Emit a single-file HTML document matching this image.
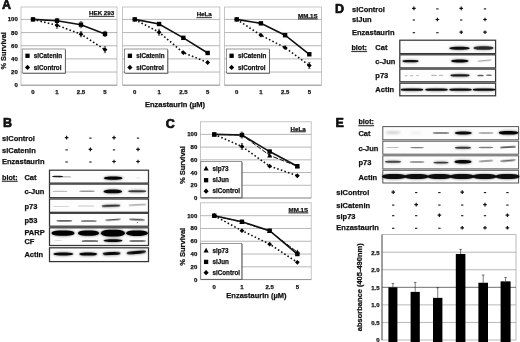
<!DOCTYPE html>
<html lang="en"><head><meta charset="utf-8"><title>Figure</title>
<style>html,body{margin:0;padding:0;background:#fff}body{width:520px;height:342px;overflow:hidden}svg{display:block;font-family:"Liberation Sans", Arial, sans-serif;filter:blur(0.3px)}</style>
</head><body>
<svg width="520" height="342" viewBox="0 0 520 342">
<defs>
<filter id="b1" x="-20%" y="-100%" width="140%" height="300%"><feGaussianBlur stdDeviation="0.7"/></filter>
<filter id="b2" x="-20%" y="-100%" width="140%" height="300%"><feGaussianBlur stdDeviation="0.9"/></filter>
</defs>
<rect width="520" height="342" fill="#fff"/>
<text x="2.00" y="9.20" font-size="12.5" text-anchor="start" font-weight="bold" fill="#111" stroke="#111" stroke-width="0.7" stroke-linejoin="round" >A</text>
<rect x="21" y="7" width="96" height="78.2" fill="#fff" stroke="#b8b8b8" stroke-width="0.8"/>
<line x1="21" x2="117" y1="72.04" y2="72.04" stroke="#9a9a9a" stroke-width="0.7"/>
<line x1="21" x2="117" y1="58.88" y2="58.88" stroke="#9a9a9a" stroke-width="0.7"/>
<line x1="21" x2="117" y1="45.72" y2="45.72" stroke="#9a9a9a" stroke-width="0.7"/>
<line x1="21" x2="117" y1="32.56" y2="32.56" stroke="#9a9a9a" stroke-width="0.7"/>
<line x1="21" x2="117" y1="19.40" y2="19.40" stroke="#9a9a9a" stroke-width="0.7"/>
<line x1="21" x2="117" y1="85.20" y2="85.20" stroke="#8a8a8a" stroke-width="0.8"/>
<text x="114.20" y="15.00" font-size="6.2" text-anchor="end" font-weight="bold" fill="#111" stroke="#111" stroke-width="0.25" stroke-linejoin="round" text-decoration="underline">HEK 293</text>
<polyline points="33.00,19.40 57.00,25.32 81.00,34.20 105.00,49.67" fill="none" stroke="#111" stroke-width="1.6" stroke-dasharray="1.6 2.2"/>
<polyline points="33.00,19.40 57.00,20.72 81.00,24.66 105.00,33.88" fill="none" stroke="#111" stroke-width="1.6"/>
<path d="M33.00,17.00 L35.40,19.40 L33.00,21.80 L30.60,19.40Z" fill="#000"/>
<path d="M57.00,22.32V28.32M55.80,22.32h2.4M55.80,28.32h2.4" stroke="#222" stroke-width="0.6" fill="none"/>
<path d="M57.00,22.92 L59.40,25.32 L57.00,27.72 L54.60,25.32Z" fill="#000"/>
<path d="M81.00,31.60V36.80M79.80,31.60h2.4M79.80,36.80h2.4" stroke="#222" stroke-width="0.6" fill="none"/>
<path d="M81.00,31.80 L83.40,34.20 L81.00,36.60 L78.60,34.20Z" fill="#000"/>
<path d="M105.00,46.67V52.67M103.80,46.67h2.4M103.80,52.67h2.4" stroke="#222" stroke-width="0.6" fill="none"/>
<path d="M105.00,47.27 L107.40,49.67 L105.00,52.07 L102.60,49.67Z" fill="#000"/>
<rect x="30.80" y="17.20" width="4.40" height="4.40" fill="#000"/>
<path d="M57.00,18.32V23.12M55.80,18.32h2.4M55.80,23.12h2.4" stroke="#222" stroke-width="0.6" fill="none"/>
<rect x="54.80" y="18.52" width="4.40" height="4.40" fill="#000"/>
<path d="M81.00,21.66V27.66M79.80,21.66h2.4M79.80,27.66h2.4" stroke="#222" stroke-width="0.6" fill="none"/>
<rect x="78.80" y="22.46" width="4.40" height="4.40" fill="#000"/>
<path d="M105.00,31.28V36.48M103.80,31.28h2.4M103.80,36.48h2.4" stroke="#222" stroke-width="0.6" fill="none"/>
<rect x="102.80" y="31.68" width="4.40" height="4.40" fill="#000"/>
<rect x="22.9" y="49.7" width="43.0" height="24" fill="#555"/>
<rect x="22.2" y="49" width="43.0" height="24" fill="#fff" stroke="#555" stroke-width="0.6"/>
<rect x="25.35" y="53.65" width="4.30" height="4.30" fill="#000"/>
<text x="33.80" y="58.00" font-size="6.3" text-anchor="start" font-weight="bold" fill="#111" stroke="#111" stroke-width="0.25" stroke-linejoin="round" >siCatenin</text>
<path d="M27.50,64.80 L30.10,67.40 L27.50,70.00 L24.90,67.40Z" fill="#000"/>
<text x="33.80" y="69.60" font-size="6.3" text-anchor="start" font-weight="bold" fill="#111" stroke="#111" stroke-width="0.25" stroke-linejoin="round" >siControl</text>
<text x="33.00" y="94.20" font-size="6.0" text-anchor="middle" font-weight="bold" fill="#111" stroke="#111" stroke-width="0.25" stroke-linejoin="round" >0</text>
<text x="57.00" y="94.20" font-size="6.0" text-anchor="middle" font-weight="bold" fill="#111" stroke="#111" stroke-width="0.25" stroke-linejoin="round" >1</text>
<text x="81.00" y="94.20" font-size="6.0" text-anchor="middle" font-weight="bold" fill="#111" stroke="#111" stroke-width="0.25" stroke-linejoin="round" >2.5</text>
<text x="105.00" y="94.20" font-size="6.0" text-anchor="middle" font-weight="bold" fill="#111" stroke="#111" stroke-width="0.25" stroke-linejoin="round" >5</text>
<rect x="122.6" y="7" width="97.20000000000002" height="78.2" fill="#fff" stroke="#b8b8b8" stroke-width="0.8"/>
<line x1="122.6" x2="219.8" y1="72.04" y2="72.04" stroke="#9a9a9a" stroke-width="0.7"/>
<line x1="122.6" x2="219.8" y1="58.88" y2="58.88" stroke="#9a9a9a" stroke-width="0.7"/>
<line x1="122.6" x2="219.8" y1="45.72" y2="45.72" stroke="#9a9a9a" stroke-width="0.7"/>
<line x1="122.6" x2="219.8" y1="32.56" y2="32.56" stroke="#9a9a9a" stroke-width="0.7"/>
<line x1="122.6" x2="219.8" y1="19.40" y2="19.40" stroke="#9a9a9a" stroke-width="0.7"/>
<line x1="122.6" x2="219.8" y1="85.20" y2="85.20" stroke="#8a8a8a" stroke-width="0.8"/>
<text x="211.80" y="16.30" font-size="6.2" text-anchor="end" font-weight="bold" fill="#111" stroke="#111" stroke-width="0.25" stroke-linejoin="round" text-decoration="underline">HeLa</text>
<polyline points="134.75,19.40 159.05,32.23 183.35,52.63 207.65,62.50" fill="none" stroke="#111" stroke-width="1.6" stroke-dasharray="1.6 2.2"/>
<polyline points="134.75,19.40 159.05,24.01 183.35,37.82 207.65,52.96" fill="none" stroke="#111" stroke-width="1.6"/>
<path d="M134.75,17.00 L137.15,19.40 L134.75,21.80 L132.35,19.40Z" fill="#000"/>
<path d="M159.05,29.23V35.23M157.85,29.23h2.4M157.85,35.23h2.4" stroke="#222" stroke-width="0.6" fill="none"/>
<path d="M159.05,29.83 L161.45,32.23 L159.05,34.63 L156.65,32.23Z" fill="#000"/>
<path d="M183.35,50.23 L185.75,52.63 L183.35,55.03 L180.95,52.63Z" fill="#000"/>
<path d="M207.65,60.10 L210.05,62.50 L207.65,64.90 L205.25,62.50Z" fill="#000"/>
<rect x="132.55" y="17.20" width="4.40" height="4.40" fill="#000"/>
<rect x="156.85" y="21.81" width="4.40" height="4.40" fill="#000"/>
<rect x="181.15" y="35.62" width="4.40" height="4.40" fill="#000"/>
<rect x="205.45" y="50.76" width="4.40" height="4.40" fill="#000"/>
<rect x="125.3" y="49.7" width="43.0" height="24" fill="#555"/>
<rect x="124.6" y="49" width="43.0" height="24" fill="#fff" stroke="#555" stroke-width="0.6"/>
<rect x="127.75" y="53.65" width="4.30" height="4.30" fill="#000"/>
<text x="136.20" y="58.00" font-size="6.3" text-anchor="start" font-weight="bold" fill="#111" stroke="#111" stroke-width="0.25" stroke-linejoin="round" >siCatenin</text>
<path d="M129.90,64.80 L132.50,67.40 L129.90,70.00 L127.30,67.40Z" fill="#000"/>
<text x="136.20" y="69.60" font-size="6.3" text-anchor="start" font-weight="bold" fill="#111" stroke="#111" stroke-width="0.25" stroke-linejoin="round" >siControl</text>
<text x="134.75" y="94.20" font-size="6.0" text-anchor="middle" font-weight="bold" fill="#111" stroke="#111" stroke-width="0.25" stroke-linejoin="round" >0</text>
<text x="159.05" y="94.20" font-size="6.0" text-anchor="middle" font-weight="bold" fill="#111" stroke="#111" stroke-width="0.25" stroke-linejoin="round" >1</text>
<text x="183.35" y="94.20" font-size="6.0" text-anchor="middle" font-weight="bold" fill="#111" stroke="#111" stroke-width="0.25" stroke-linejoin="round" >2.5</text>
<text x="207.65" y="94.20" font-size="6.0" text-anchor="middle" font-weight="bold" fill="#111" stroke="#111" stroke-width="0.25" stroke-linejoin="round" >5</text>
<rect x="224.6" y="7" width="96.79999999999998" height="78.2" fill="#fff" stroke="#b8b8b8" stroke-width="0.8"/>
<line x1="224.6" x2="321.4" y1="72.04" y2="72.04" stroke="#9a9a9a" stroke-width="0.7"/>
<line x1="224.6" x2="321.4" y1="58.88" y2="58.88" stroke="#9a9a9a" stroke-width="0.7"/>
<line x1="224.6" x2="321.4" y1="45.72" y2="45.72" stroke="#9a9a9a" stroke-width="0.7"/>
<line x1="224.6" x2="321.4" y1="32.56" y2="32.56" stroke="#9a9a9a" stroke-width="0.7"/>
<line x1="224.6" x2="321.4" y1="19.40" y2="19.40" stroke="#9a9a9a" stroke-width="0.7"/>
<line x1="224.6" x2="321.4" y1="85.20" y2="85.20" stroke="#8a8a8a" stroke-width="0.8"/>
<text x="317.60" y="17.60" font-size="6.2" text-anchor="end" font-weight="bold" fill="#111" stroke="#111" stroke-width="0.25" stroke-linejoin="round" text-decoration="underline">MM.1S</text>
<polyline points="236.70,19.40 260.90,35.19 285.10,47.69 309.30,65.46" fill="none" stroke="#111" stroke-width="1.6" stroke-dasharray="1.6 2.2"/>
<polyline points="236.70,19.40 260.90,23.35 285.10,35.19 309.30,54.27" fill="none" stroke="#111" stroke-width="1.6"/>
<path d="M236.70,17.00 L239.10,19.40 L236.70,21.80 L234.30,19.40Z" fill="#000"/>
<path d="M260.90,32.79 L263.30,35.19 L260.90,37.59 L258.50,35.19Z" fill="#000"/>
<path d="M285.10,45.29 L287.50,47.69 L285.10,50.09 L282.70,47.69Z" fill="#000"/>
<path d="M309.30,62.46V68.46M308.10,62.46h2.4M308.10,68.46h2.4" stroke="#222" stroke-width="0.6" fill="none"/>
<path d="M309.30,63.06 L311.70,65.46 L309.30,67.86 L306.90,65.46Z" fill="#000"/>
<rect x="234.50" y="17.20" width="4.40" height="4.40" fill="#000"/>
<rect x="258.70" y="21.15" width="4.40" height="4.40" fill="#000"/>
<rect x="282.90" y="32.99" width="4.40" height="4.40" fill="#000"/>
<rect x="307.10" y="52.07" width="4.40" height="4.40" fill="#000"/>
<rect x="227.0" y="49.7" width="43.0" height="24" fill="#555"/>
<rect x="226.3" y="49" width="43.0" height="24" fill="#fff" stroke="#555" stroke-width="0.6"/>
<rect x="229.45" y="53.65" width="4.30" height="4.30" fill="#000"/>
<text x="237.90" y="58.00" font-size="6.3" text-anchor="start" font-weight="bold" fill="#111" stroke="#111" stroke-width="0.25" stroke-linejoin="round" >siCatenin</text>
<path d="M231.60,64.80 L234.20,67.40 L231.60,70.00 L229.00,67.40Z" fill="#000"/>
<text x="237.90" y="69.60" font-size="6.3" text-anchor="start" font-weight="bold" fill="#111" stroke="#111" stroke-width="0.25" stroke-linejoin="round" >siControl</text>
<text x="236.70" y="94.20" font-size="6.0" text-anchor="middle" font-weight="bold" fill="#111" stroke="#111" stroke-width="0.25" stroke-linejoin="round" >0</text>
<text x="260.90" y="94.20" font-size="6.0" text-anchor="middle" font-weight="bold" fill="#111" stroke="#111" stroke-width="0.25" stroke-linejoin="round" >1</text>
<text x="285.10" y="94.20" font-size="6.0" text-anchor="middle" font-weight="bold" fill="#111" stroke="#111" stroke-width="0.25" stroke-linejoin="round" >2.5</text>
<text x="309.30" y="94.20" font-size="6.0" text-anchor="middle" font-weight="bold" fill="#111" stroke="#111" stroke-width="0.25" stroke-linejoin="round" >5</text>
<text x="17.80" y="87.20" font-size="6.0" text-anchor="end" font-weight="bold" fill="#111" stroke="#111" stroke-width="0.25" stroke-linejoin="round" >0</text>
<text x="17.80" y="74.04" font-size="6.0" text-anchor="end" font-weight="bold" fill="#111" stroke="#111" stroke-width="0.25" stroke-linejoin="round" >20</text>
<text x="17.80" y="60.88" font-size="6.0" text-anchor="end" font-weight="bold" fill="#111" stroke="#111" stroke-width="0.25" stroke-linejoin="round" >40</text>
<text x="17.80" y="47.72" font-size="6.0" text-anchor="end" font-weight="bold" fill="#111" stroke="#111" stroke-width="0.25" stroke-linejoin="round" >60</text>
<text x="17.80" y="34.56" font-size="6.0" text-anchor="end" font-weight="bold" fill="#111" stroke="#111" stroke-width="0.25" stroke-linejoin="round" >80</text>
<text x="17.80" y="21.40" font-size="6.0" text-anchor="end" font-weight="bold" fill="#111" stroke="#111" stroke-width="0.25" stroke-linejoin="round" >100</text>
<text transform="translate(6.20,50.90) rotate(-90)" font-size="7.4" text-anchor="middle" font-weight="bold" fill="#111" stroke="#111" stroke-width="0.25">% Survival</text>
<text x="175.00" y="107.40" font-size="7.5" text-anchor="middle" font-weight="bold" fill="#111" stroke="#111" stroke-width="0.25" stroke-linejoin="round" >Enzastaurin (µM)</text>
<text x="165.80" y="127.80" font-size="12.5" text-anchor="start" font-weight="bold" fill="#111" stroke="#111" stroke-width="0.7" stroke-linejoin="round" >C</text>
<rect x="200.4" y="121.8" width="110.79999999999998" height="76.2" fill="#fff" stroke="#b8b8b8" stroke-width="0.8"/>
<line x1="200.4" x2="311.2" y1="185.28" y2="185.28" stroke="#9a9a9a" stroke-width="0.7"/>
<line x1="200.4" x2="311.2" y1="172.56" y2="172.56" stroke="#9a9a9a" stroke-width="0.7"/>
<line x1="200.4" x2="311.2" y1="159.84" y2="159.84" stroke="#9a9a9a" stroke-width="0.7"/>
<line x1="200.4" x2="311.2" y1="147.12" y2="147.12" stroke="#9a9a9a" stroke-width="0.7"/>
<line x1="200.4" x2="311.2" y1="134.40" y2="134.40" stroke="#9a9a9a" stroke-width="0.7"/>
<line x1="200.4" x2="311.2" y1="198.00" y2="198.00" stroke="#8a8a8a" stroke-width="0.8"/>
<text x="305.70" y="130.50" font-size="6.2" text-anchor="end" font-weight="bold" fill="#111" stroke="#111" stroke-width="0.25" stroke-linejoin="round" text-decoration="underline">HeLa</text>
<polyline points="214.25,134.40 241.95,146.48 269.65,166.20 297.35,175.74" fill="none" stroke="#111" stroke-width="1.6" stroke-dasharray="1.6 2.2"/>
<polyline points="214.25,134.40 241.95,135.04 269.65,155.39 297.35,166.20" fill="none" stroke="#111" stroke-width="1.0" stroke-dasharray="5 1.6"/>
<polyline points="214.25,134.40 241.95,135.04 269.65,151.57 297.35,166.20" fill="none" stroke="#111" stroke-width="1.6"/>
<path d="M214.25,132.00 L216.65,134.40 L214.25,136.80 L211.85,134.40Z" fill="#000"/>
<path d="M241.95,143.48V149.48M240.75,143.48h2.4M240.75,149.48h2.4" stroke="#222" stroke-width="0.6" fill="none"/>
<path d="M241.95,144.08 L244.35,146.48 L241.95,148.88 L239.55,146.48Z" fill="#000"/>
<path d="M269.65,163.80 L272.05,166.20 L269.65,168.60 L267.25,166.20Z" fill="#000"/>
<path d="M297.35,173.34 L299.75,175.74 L297.35,178.14 L294.95,175.74Z" fill="#000"/>
<path d="M214.25,131.90 L216.75,136.40 L211.75,136.40Z" fill="#000"/>
<path d="M241.95,132.54 L244.45,137.04 L239.45,137.04Z" fill="#000"/>
<path d="M269.65,152.89 L272.15,157.39 L267.15,157.39Z" fill="#000"/>
<path d="M297.35,163.70 L299.85,168.20 L294.85,168.20Z" fill="#000"/>
<rect x="212.05" y="132.20" width="4.40" height="4.40" fill="#000"/>
<path d="M241.95,132.04V138.04M240.75,132.04h2.4M240.75,138.04h2.4" stroke="#222" stroke-width="0.6" fill="none"/>
<rect x="239.75" y="132.84" width="4.40" height="4.40" fill="#000"/>
<rect x="267.45" y="149.37" width="4.40" height="4.40" fill="#000"/>
<rect x="295.15" y="164.00" width="4.40" height="4.40" fill="#000"/>
<rect x="201.5" y="162.2" width="41.0" height="36.099999999999994" fill="#555"/>
<rect x="200.8" y="161.5" width="41.0" height="36.099999999999994" fill="#fff" stroke="#555" stroke-width="0.6"/>
<path d="M206.10,165.70 L208.70,170.38 L203.50,170.38Z" fill="#000"/>
<text x="212.40" y="170.50" font-size="6.3" text-anchor="start" font-weight="bold" fill="#111" stroke="#111" stroke-width="0.25" stroke-linejoin="round" >sip73</text>
<rect x="203.95" y="178.05" width="4.30" height="4.30" fill="#000"/>
<text x="212.40" y="182.40" font-size="6.3" text-anchor="start" font-weight="bold" fill="#111" stroke="#111" stroke-width="0.25" stroke-linejoin="round" >siJun</text>
<path d="M206.10,188.60 L208.70,191.20 L206.10,193.80 L203.50,191.20Z" fill="#000"/>
<text x="212.40" y="193.40" font-size="6.3" text-anchor="start" font-weight="bold" fill="#111" stroke="#111" stroke-width="0.25" stroke-linejoin="round" >siControl</text>
<rect x="200.4" y="202.8" width="110.79999999999998" height="76.80000000000001" fill="#fff" stroke="#b8b8b8" stroke-width="0.8"/>
<line x1="200.4" x2="311.2" y1="266.82" y2="266.82" stroke="#9a9a9a" stroke-width="0.7"/>
<line x1="200.4" x2="311.2" y1="254.04" y2="254.04" stroke="#9a9a9a" stroke-width="0.7"/>
<line x1="200.4" x2="311.2" y1="241.26" y2="241.26" stroke="#9a9a9a" stroke-width="0.7"/>
<line x1="200.4" x2="311.2" y1="228.48" y2="228.48" stroke="#9a9a9a" stroke-width="0.7"/>
<line x1="200.4" x2="311.2" y1="215.70" y2="215.70" stroke="#9a9a9a" stroke-width="0.7"/>
<line x1="200.4" x2="311.2" y1="279.60" y2="279.60" stroke="#8a8a8a" stroke-width="0.8"/>
<text x="308.20" y="211.60" font-size="6.2" text-anchor="end" font-weight="bold" fill="#111" stroke="#111" stroke-width="0.25" stroke-linejoin="round" text-decoration="underline">MM.1S</text>
<polyline points="214.25,215.70 241.95,230.72 269.65,244.14 297.35,262.35" fill="none" stroke="#111" stroke-width="1.6" stroke-dasharray="1.6 2.2"/>
<polyline points="214.25,215.70 241.95,222.09 269.65,231.04 297.35,252.12" fill="none" stroke="#111" stroke-width="1.0" stroke-dasharray="5 1.6"/>
<polyline points="214.25,215.70 241.95,221.77 269.65,230.72 297.35,254.04" fill="none" stroke="#111" stroke-width="1.6"/>
<path d="M214.25,213.30 L216.65,215.70 L214.25,218.10 L211.85,215.70Z" fill="#000"/>
<path d="M241.95,228.32 L244.35,230.72 L241.95,233.12 L239.55,230.72Z" fill="#000"/>
<path d="M269.65,241.74 L272.05,244.14 L269.65,246.54 L267.25,244.14Z" fill="#000"/>
<path d="M297.35,259.95 L299.75,262.35 L297.35,264.75 L294.95,262.35Z" fill="#000"/>
<path d="M214.25,213.20 L216.75,217.70 L211.75,217.70Z" fill="#000"/>
<path d="M241.95,219.59 L244.45,224.09 L239.45,224.09Z" fill="#000"/>
<path d="M269.65,228.54 L272.15,233.04 L267.15,233.04Z" fill="#000"/>
<path d="M297.35,249.62 L299.85,254.12 L294.85,254.12Z" fill="#000"/>
<rect x="212.05" y="213.50" width="4.40" height="4.40" fill="#000"/>
<rect x="239.75" y="219.57" width="4.40" height="4.40" fill="#000"/>
<rect x="267.45" y="228.52" width="4.40" height="4.40" fill="#000"/>
<rect x="295.15" y="251.84" width="4.40" height="4.40" fill="#000"/>
<rect x="201.5" y="244.0" width="41.0" height="35.89999999999998" fill="#555"/>
<rect x="200.8" y="243.3" width="41.0" height="35.89999999999998" fill="#fff" stroke="#555" stroke-width="0.6"/>
<path d="M206.10,247.80 L208.70,252.48 L203.50,252.48Z" fill="#000"/>
<text x="212.40" y="252.60" font-size="6.3" text-anchor="start" font-weight="bold" fill="#111" stroke="#111" stroke-width="0.25" stroke-linejoin="round" >sip73</text>
<rect x="203.95" y="259.75" width="4.30" height="4.30" fill="#000"/>
<text x="212.40" y="264.10" font-size="6.3" text-anchor="start" font-weight="bold" fill="#111" stroke="#111" stroke-width="0.25" stroke-linejoin="round" >siJun</text>
<path d="M206.10,270.10 L208.70,272.70 L206.10,275.30 L203.50,272.70Z" fill="#000"/>
<text x="212.40" y="274.90" font-size="6.3" text-anchor="start" font-weight="bold" fill="#111" stroke="#111" stroke-width="0.25" stroke-linejoin="round" >siControl</text>
<text x="214.25" y="289.20" font-size="6.0" text-anchor="middle" font-weight="bold" fill="#111" stroke="#111" stroke-width="0.25" stroke-linejoin="round" >0</text>
<text x="241.95" y="289.20" font-size="6.0" text-anchor="middle" font-weight="bold" fill="#111" stroke="#111" stroke-width="0.25" stroke-linejoin="round" >1</text>
<text x="269.65" y="289.20" font-size="6.0" text-anchor="middle" font-weight="bold" fill="#111" stroke="#111" stroke-width="0.25" stroke-linejoin="round" >2.5</text>
<text x="297.35" y="289.20" font-size="6.0" text-anchor="middle" font-weight="bold" fill="#111" stroke="#111" stroke-width="0.25" stroke-linejoin="round" >5</text>
<text x="197.30" y="200.00" font-size="6.0" text-anchor="end" font-weight="bold" fill="#111" stroke="#111" stroke-width="0.25" stroke-linejoin="round" >0</text>
<text x="197.30" y="187.28" font-size="6.0" text-anchor="end" font-weight="bold" fill="#111" stroke="#111" stroke-width="0.25" stroke-linejoin="round" >20</text>
<text x="197.30" y="174.56" font-size="6.0" text-anchor="end" font-weight="bold" fill="#111" stroke="#111" stroke-width="0.25" stroke-linejoin="round" >40</text>
<text x="197.30" y="161.84" font-size="6.0" text-anchor="end" font-weight="bold" fill="#111" stroke="#111" stroke-width="0.25" stroke-linejoin="round" >60</text>
<text x="197.30" y="149.12" font-size="6.0" text-anchor="end" font-weight="bold" fill="#111" stroke="#111" stroke-width="0.25" stroke-linejoin="round" >80</text>
<text x="197.30" y="136.40" font-size="6.0" text-anchor="end" font-weight="bold" fill="#111" stroke="#111" stroke-width="0.25" stroke-linejoin="round" >100</text>
<text x="197.30" y="281.60" font-size="6.0" text-anchor="end" font-weight="bold" fill="#111" stroke="#111" stroke-width="0.25" stroke-linejoin="round" >0</text>
<text x="197.30" y="268.82" font-size="6.0" text-anchor="end" font-weight="bold" fill="#111" stroke="#111" stroke-width="0.25" stroke-linejoin="round" >20</text>
<text x="197.30" y="256.04" font-size="6.0" text-anchor="end" font-weight="bold" fill="#111" stroke="#111" stroke-width="0.25" stroke-linejoin="round" >40</text>
<text x="197.30" y="243.26" font-size="6.0" text-anchor="end" font-weight="bold" fill="#111" stroke="#111" stroke-width="0.25" stroke-linejoin="round" >60</text>
<text x="197.30" y="230.48" font-size="6.0" text-anchor="end" font-weight="bold" fill="#111" stroke="#111" stroke-width="0.25" stroke-linejoin="round" >80</text>
<text x="197.30" y="217.70" font-size="6.0" text-anchor="end" font-weight="bold" fill="#111" stroke="#111" stroke-width="0.25" stroke-linejoin="round" >100</text>
<text transform="translate(184.60,165.10) rotate(-90)" font-size="7.5" text-anchor="middle" font-weight="bold" fill="#111" stroke="#111" stroke-width="0.25">% Survival</text>
<text transform="translate(184.60,246.80) rotate(-90)" font-size="7.5" text-anchor="middle" font-weight="bold" fill="#111" stroke="#111" stroke-width="0.25">% Survival</text>
<text x="256.40" y="298.00" font-size="7.5" text-anchor="middle" font-weight="bold" fill="#111" stroke="#111" stroke-width="0.25" stroke-linejoin="round" >Enzastaurin (µM)</text>
<text x="3.00" y="126.60" font-size="12.5" text-anchor="start" font-weight="bold" fill="#111" stroke="#111" stroke-width="0.7" stroke-linejoin="round" >B</text>
<text x="2.00" y="141.40" font-size="7.5" text-anchor="start" font-weight="bold" fill="#111" stroke="#111" stroke-width="0.25" stroke-linejoin="round" >siControl</text>
<path d="M64.80,137.60h3.6M66.60,135.80v3.6" stroke="#111" stroke-width="1.2" fill="none"/>
<path d="M89.25,138.10h2.3" stroke="#111" stroke-width="1.1" fill="none"/>
<path d="M112.20,137.60h3.6M114.00,135.80v3.6" stroke="#111" stroke-width="1.2" fill="none"/>
<path d="M136.85,138.10h2.3" stroke="#111" stroke-width="1.1" fill="none"/>
<text x="2.00" y="153.00" font-size="7.5" text-anchor="start" font-weight="bold" fill="#111" stroke="#111" stroke-width="0.25" stroke-linejoin="round" >siCatenin</text>
<path d="M65.45,149.90h2.3" stroke="#111" stroke-width="1.1" fill="none"/>
<path d="M88.60,149.40h3.6M90.40,147.60v3.6" stroke="#111" stroke-width="1.2" fill="none"/>
<path d="M112.85,149.90h2.3" stroke="#111" stroke-width="1.1" fill="none"/>
<path d="M136.20,149.40h3.6M138.00,147.60v3.6" stroke="#111" stroke-width="1.2" fill="none"/>
<text x="2.00" y="164.20" font-size="7.5" text-anchor="start" font-weight="bold" fill="#111" stroke="#111" stroke-width="0.25" stroke-linejoin="round" >Enzastaurin</text>
<path d="M65.45,162.00h2.3" stroke="#111" stroke-width="1.1" fill="none"/>
<path d="M89.25,162.00h2.3" stroke="#111" stroke-width="1.1" fill="none"/>
<path d="M112.20,161.50h3.6M114.00,159.70v3.6" stroke="#111" stroke-width="1.2" fill="none"/>
<path d="M136.20,161.50h3.6M138.00,159.70v3.6" stroke="#111" stroke-width="1.2" fill="none"/>
<text x="2.00" y="179.90" font-size="7.2" text-anchor="start" font-weight="bold" fill="#111" stroke="#111" stroke-width="0.25" stroke-linejoin="round" text-decoration="underline">blot:</text>
<rect x="49.5" y="170.2" width="99.0" height="12.900000000000006" fill="#fdfdfd" stroke="#363636" stroke-width="1.25"/>
<rect x="49.5" y="184.1" width="99.0" height="13.599999999999994" fill="#fdfdfd" stroke="#363636" stroke-width="1.25"/>
<rect x="49.5" y="199" width="99.0" height="13.300000000000011" fill="#fdfdfd" stroke="#363636" stroke-width="1.25"/>
<rect x="49.5" y="213.3" width="99.0" height="12.899999999999977" fill="#fdfdfd" stroke="#363636" stroke-width="1.25"/>
<rect x="49.5" y="227.8" width="99.0" height="17.69999999999999" fill="#fdfdfd" stroke="#363636" stroke-width="1.25"/>
<rect x="49.5" y="247.8" width="99.0" height="13.800000000000011" fill="#fdfdfd" stroke="#363636" stroke-width="1.25"/>
<text x="24.40" y="179.90" font-size="7.5" text-anchor="start" font-weight="bold" fill="#111" stroke="#111" stroke-width="0.25" stroke-linejoin="round" >Cat</text>
<text x="24.40" y="193.70" font-size="7.5" text-anchor="start" font-weight="bold" fill="#111" stroke="#111" stroke-width="0.25" stroke-linejoin="round" >c-Jun</text>
<text x="24.40" y="208.80" font-size="7.5" text-anchor="start" font-weight="bold" fill="#111" stroke="#111" stroke-width="0.25" stroke-linejoin="round" >p73</text>
<text x="24.40" y="222.80" font-size="7.5" text-anchor="start" font-weight="bold" fill="#111" stroke="#111" stroke-width="0.25" stroke-linejoin="round" >p53</text>
<text x="24.40" y="235.20" font-size="7.5" text-anchor="start" font-weight="bold" fill="#111" stroke="#111" stroke-width="0.25" stroke-linejoin="round" >PARP</text>
<text x="24.40" y="244.40" font-size="7.5" text-anchor="start" font-weight="bold" fill="#111" stroke="#111" stroke-width="0.25" stroke-linejoin="round" >CF</text>
<text x="24.40" y="257.40" font-size="7.5" text-anchor="start" font-weight="bold" fill="#111" stroke="#111" stroke-width="0.25" stroke-linejoin="round" >Actin</text>
<g><rect x="52.00" y="175.85" width="11.00" height="1.30" rx="2.86" ry="0.65" fill="#000" fill-opacity="0.9" filter="url(#b1)"/></g>
<g><rect x="58.50" y="176.50" width="13.00" height="0.80" rx="1.76" ry="0.40" fill="#000" fill-opacity="0.5" filter="url(#b1)"/></g>
<g><ellipse cx="113.20" cy="178.20" rx="9.85" ry="2.30" fill="#000" fill-opacity="0.40" filter="url(#b2)"/><rect x="103.95" y="176.60" width="18.50" height="3.20" rx="6.17" ry="1.60" fill="#000" fill-opacity="1.0" filter="url(#b1)"/></g>
<g><rect x="135.50" y="177.50" width="5.00" height="1.00" rx="1.67" ry="0.50" fill="#000" fill-opacity="0.12" filter="url(#b1)"/></g>
<g><rect x="52.50" y="190.75" width="15.00" height="1.30" rx="2.86" ry="0.65" fill="#000" fill-opacity="0.25" filter="url(#b1)"/></g>
<g><rect x="79.00" y="190.55" width="16.00" height="1.50" rx="3.30" ry="0.75" fill="#000" fill-opacity="0.4" filter="url(#b1)"/></g>
<g><ellipse cx="112.80" cy="191.40" rx="9.85" ry="2.50" fill="#000" fill-opacity="0.38" filter="url(#b2)"/><rect x="103.55" y="189.60" width="18.50" height="3.60" rx="6.17" ry="1.80" fill="#000" fill-opacity="0.95" filter="url(#b1)"/></g>
<g><ellipse cx="137.20" cy="191.30" rx="9.60" ry="1.70" fill="#000" fill-opacity="0.28" filter="url(#b2)"/><rect x="128.20" y="190.30" width="18.00" height="2.00" rx="4.40" ry="1.00" fill="#000" fill-opacity="0.7" filter="url(#b1)"/></g>
<g><rect x="52.50" y="205.90" width="17.00" height="1.00" rx="2.20" ry="0.50" fill="#000" fill-opacity="0.15" filter="url(#b1)"/></g>
<g><rect x="77.50" y="205.45" width="17.00" height="1.10" rx="2.42" ry="0.55" fill="#000" fill-opacity="0.22" filter="url(#b1)"/></g>
<g transform="rotate(-2 111 205.8)"><ellipse cx="111.00" cy="205.80" rx="9.85" ry="1.65" fill="#000" fill-opacity="0.30" filter="url(#b2)"/><rect x="101.75" y="204.85" width="18.50" height="1.90" rx="4.18" ry="0.95" fill="#000" fill-opacity="0.75" filter="url(#b1)"/></g>
<g transform="rotate(-3 137.5 204.9)"><rect x="128.50" y="204.30" width="18.00" height="1.20" rx="2.64" ry="0.60" fill="#000" fill-opacity="0.4" filter="url(#b1)"/></g>
<g><rect x="56.30" y="219.95" width="16.00" height="1.70" rx="3.74" ry="0.85" fill="#000" fill-opacity="0.6" filter="url(#b1)"/></g>
<g><rect x="80.80" y="220.15" width="16.00" height="1.70" rx="3.74" ry="0.85" fill="#000" fill-opacity="0.6" filter="url(#b1)"/></g>
<g transform="rotate(-4 113 219.8)"><rect x="105.00" y="219.05" width="16.00" height="1.50" rx="3.30" ry="0.75" fill="#000" fill-opacity="0.65" filter="url(#b1)"/></g>
<g transform="rotate(3 137 219.6)"><rect x="129.00" y="218.75" width="16.00" height="1.70" rx="3.74" ry="0.85" fill="#000" fill-opacity="0.65" filter="url(#b1)"/></g>
<g><rect x="136.70" y="221.90" width="1.20" height="1.00" rx="0.40" ry="0.50" fill="#000" fill-opacity="0.6" filter="url(#b1)"/></g>
<g><ellipse cx="63.00" cy="233.20" rx="12.10" ry="3.30" fill="#000" fill-opacity="0.40" filter="url(#b2)"/><rect x="51.50" y="230.60" width="23.00" height="5.20" rx="7.67" ry="2.60" fill="#000" fill-opacity="1.0" filter="url(#b1)"/></g>
<g><ellipse cx="88.50" cy="233.20" rx="11.10" ry="3.30" fill="#000" fill-opacity="0.40" filter="url(#b2)"/><rect x="78.00" y="230.60" width="21.00" height="5.20" rx="7.00" ry="2.60" fill="#000" fill-opacity="1.0" filter="url(#b1)"/></g>
<g><ellipse cx="112.90" cy="233.20" rx="12.60" ry="4.10" fill="#000" fill-opacity="0.40" filter="url(#b2)"/><rect x="100.90" y="229.80" width="24.00" height="6.80" rx="8.00" ry="3.40" fill="#000" fill-opacity="1.0" filter="url(#b1)"/></g>
<g><ellipse cx="137.00" cy="233.20" rx="11.35" ry="3.40" fill="#000" fill-opacity="0.40" filter="url(#b2)"/><rect x="126.25" y="230.50" width="21.50" height="5.40" rx="7.17" ry="2.70" fill="#000" fill-opacity="1.0" filter="url(#b1)"/></g>
<g><rect x="54.00" y="239.95" width="8.00" height="0.90" rx="1.98" ry="0.45" fill="#000" fill-opacity="0.18" filter="url(#b1)"/></g>
<g><rect x="81.50" y="240.15" width="17.00" height="1.70" rx="3.74" ry="0.85" fill="#000" fill-opacity="0.7" filter="url(#b1)"/></g>
<g><ellipse cx="113.00" cy="240.60" rx="10.10" ry="2.05" fill="#000" fill-opacity="0.38" filter="url(#b2)"/><rect x="103.50" y="239.25" width="19.00" height="2.70" rx="5.94" ry="1.35" fill="#000" fill-opacity="0.95" filter="url(#b1)"/></g>
<g><rect x="129.00" y="240.25" width="17.00" height="1.50" rx="3.30" ry="0.75" fill="#000" fill-opacity="0.7" filter="url(#b1)"/></g>
<g><ellipse cx="63.30" cy="254.00" rx="10.60" ry="2.20" fill="#000" fill-opacity="0.38" filter="url(#b2)"/><rect x="53.30" y="252.50" width="20.00" height="3.00" rx="6.60" ry="1.50" fill="#000" fill-opacity="0.95" filter="url(#b1)"/></g>
<g><ellipse cx="88.20" cy="254.10" rx="9.60" ry="2.20" fill="#000" fill-opacity="0.38" filter="url(#b2)"/><rect x="79.20" y="252.60" width="18.00" height="3.00" rx="6.00" ry="1.50" fill="#000" fill-opacity="0.95" filter="url(#b1)"/></g>
<g transform="rotate(-2 111.6 253.6)"><ellipse cx="111.60" cy="253.60" rx="9.60" ry="2.20" fill="#000" fill-opacity="0.38" filter="url(#b2)"/><rect x="102.60" y="252.10" width="18.00" height="3.00" rx="6.00" ry="1.50" fill="#000" fill-opacity="0.95" filter="url(#b1)"/></g>
<g transform="rotate(-5 136.3 252.4)"><ellipse cx="136.30" cy="252.40" rx="10.35" ry="2.20" fill="#000" fill-opacity="0.38" filter="url(#b2)"/><rect x="126.55" y="250.90" width="19.50" height="3.00" rx="6.50" ry="1.50" fill="#000" fill-opacity="0.95" filter="url(#b1)"/></g>
<text x="335.00" y="12.80" font-size="12.5" text-anchor="start" font-weight="bold" fill="#111" stroke="#111" stroke-width="0.7" stroke-linejoin="round" >D</text>
<text x="352.00" y="12.40" font-size="7.5" text-anchor="start" font-weight="bold" fill="#111" stroke="#111" stroke-width="0.25" stroke-linejoin="round" >siControl</text>
<path d="M412.10,8.40h3.6M413.90,6.60v3.6" stroke="#111" stroke-width="1.2" fill="none"/>
<path d="M436.25,8.90h2.3" stroke="#111" stroke-width="1.1" fill="none"/>
<path d="M459.40,8.40h3.6M461.20,6.60v3.6" stroke="#111" stroke-width="1.2" fill="none"/>
<path d="M483.85,8.90h2.3" stroke="#111" stroke-width="1.1" fill="none"/>
<text x="352.00" y="22.40" font-size="7.5" text-anchor="start" font-weight="bold" fill="#111" stroke="#111" stroke-width="0.25" stroke-linejoin="round" >siJun</text>
<path d="M412.75,20.00h2.3" stroke="#111" stroke-width="1.1" fill="none"/>
<path d="M435.60,19.50h3.6M437.40,17.70v3.6" stroke="#111" stroke-width="1.2" fill="none"/>
<path d="M460.05,20.00h2.3" stroke="#111" stroke-width="1.1" fill="none"/>
<path d="M483.20,19.50h3.6M485.00,17.70v3.6" stroke="#111" stroke-width="1.2" fill="none"/>
<text x="352.00" y="35.10" font-size="7.5" text-anchor="start" font-weight="bold" fill="#111" stroke="#111" stroke-width="0.25" stroke-linejoin="round" >Enzastaurin</text>
<path d="M412.75,32.70h2.3" stroke="#111" stroke-width="1.1" fill="none"/>
<path d="M436.25,32.70h2.3" stroke="#111" stroke-width="1.1" fill="none"/>
<path d="M459.40,32.20h3.6M461.20,30.40v3.6" stroke="#111" stroke-width="1.2" fill="none"/>
<path d="M483.20,32.20h3.6M485.00,30.40v3.6" stroke="#111" stroke-width="1.2" fill="none"/>
<text x="351.40" y="50.20" font-size="7.2" text-anchor="start" font-weight="bold" fill="#111" stroke="#111" stroke-width="0.25" stroke-linejoin="round" text-decoration="underline">blot:</text>
<rect x="399.8" y="40.2" width="95.80000000000001" height="13.399999999999999" fill="#fdfdfd" stroke="#363636" stroke-width="1.25"/>
<text x="375.30" y="49.70" font-size="7.5" text-anchor="start" font-weight="bold" fill="#111" stroke="#111" stroke-width="0.25" stroke-linejoin="round" >Cat</text>
<rect x="399.8" y="54.8" width="95.80000000000001" height="13.100000000000009" fill="#fdfdfd" stroke="#363636" stroke-width="1.25"/>
<text x="375.30" y="64.15" font-size="7.5" text-anchor="start" font-weight="bold" fill="#111" stroke="#111" stroke-width="0.25" stroke-linejoin="round" >c-Jun</text>
<rect x="399.8" y="69.1" width="95.80000000000001" height="12.700000000000003" fill="#fdfdfd" stroke="#363636" stroke-width="1.25"/>
<text x="375.30" y="78.25" font-size="7.5" text-anchor="start" font-weight="bold" fill="#111" stroke="#111" stroke-width="0.25" stroke-linejoin="round" >p73</text>
<rect x="399.8" y="83.2" width="95.80000000000001" height="12.599999999999994" fill="#fdfdfd" stroke="#363636" stroke-width="1.25"/>
<text x="375.30" y="92.30" font-size="7.5" text-anchor="start" font-weight="bold" fill="#111" stroke="#111" stroke-width="0.25" stroke-linejoin="round" >Actin</text>
<g><ellipse cx="459.50" cy="48.30" rx="10.85" ry="2.20" fill="#000" fill-opacity="0.37" filter="url(#b2)"/><rect x="449.25" y="46.80" width="20.50" height="3.00" rx="6.60" ry="1.50" fill="#000" fill-opacity="0.92" filter="url(#b1)"/></g>
<g><ellipse cx="483.50" cy="48.00" rx="10.60" ry="2.40" fill="#000" fill-opacity="0.31" filter="url(#b2)"/><rect x="473.50" y="46.30" width="20.00" height="3.40" rx="6.67" ry="1.70" fill="#000" fill-opacity="0.78" filter="url(#b1)"/></g>
<g><ellipse cx="410.50" cy="61.20" rx="8.60" ry="1.80" fill="#000" fill-opacity="0.36" filter="url(#b2)"/><rect x="402.50" y="60.10" width="16.00" height="2.20" rx="4.84" ry="1.10" fill="#000" fill-opacity="0.9" filter="url(#b1)"/></g>
<g><ellipse cx="459.80" cy="61.00" rx="9.35" ry="2.10" fill="#000" fill-opacity="0.38" filter="url(#b2)"/><rect x="451.05" y="59.60" width="17.50" height="2.80" rx="5.83" ry="1.40" fill="#000" fill-opacity="0.95" filter="url(#b1)"/></g>
<g transform="rotate(-5 484.5 60.6)"><rect x="477.00" y="60.00" width="15.00" height="1.20" rx="2.64" ry="0.60" fill="#000" fill-opacity="0.35" filter="url(#b1)"/></g>
<g><rect x="404.50" y="75.20" width="3.00" height="1.00" rx="1.00" ry="0.50" fill="#000" fill-opacity="0.3" filter="url(#b1)"/></g>
<g><rect x="409.75" y="75.20" width="3.50" height="1.00" rx="1.17" ry="0.50" fill="#000" fill-opacity="0.3" filter="url(#b1)"/></g>
<g><rect x="416.00" y="75.10" width="3.00" height="1.00" rx="1.00" ry="0.50" fill="#000" fill-opacity="0.25" filter="url(#b1)"/></g>
<g><rect x="431.00" y="74.80" width="6.00" height="1.00" rx="2.00" ry="0.50" fill="#000" fill-opacity="0.35" filter="url(#b1)"/></g>
<g><rect x="438.50" y="74.70" width="5.00" height="1.00" rx="1.67" ry="0.50" fill="#000" fill-opacity="0.3" filter="url(#b1)"/></g>
<g><ellipse cx="460.00" cy="75.40" rx="10.10" ry="1.80" fill="#000" fill-opacity="0.34" filter="url(#b2)"/><rect x="450.50" y="74.30" width="19.00" height="2.20" rx="4.84" ry="1.10" fill="#000" fill-opacity="0.85" filter="url(#b1)"/></g>
<g><rect x="477.25" y="74.65" width="6.50" height="1.70" rx="2.17" ry="0.85" fill="#000" fill-opacity="0.65" filter="url(#b1)"/></g>
<g><rect x="486.00" y="74.55" width="6.00" height="1.50" rx="2.00" ry="0.75" fill="#000" fill-opacity="0.55" filter="url(#b1)"/></g>
<g><ellipse cx="412.00" cy="89.70" rx="11.85" ry="1.80" fill="#000" fill-opacity="0.38" filter="url(#b2)"/><rect x="400.75" y="88.60" width="22.50" height="2.20" rx="4.84" ry="1.10" fill="#000" fill-opacity="0.95" filter="url(#b1)"/></g>
<g><ellipse cx="436.50" cy="89.70" rx="11.85" ry="1.80" fill="#000" fill-opacity="0.38" filter="url(#b2)"/><rect x="425.25" y="88.60" width="22.50" height="2.20" rx="4.84" ry="1.10" fill="#000" fill-opacity="0.95" filter="url(#b1)"/></g>
<g><ellipse cx="460.50" cy="89.70" rx="11.85" ry="1.80" fill="#000" fill-opacity="0.38" filter="url(#b2)"/><rect x="449.25" y="88.60" width="22.50" height="2.20" rx="4.84" ry="1.10" fill="#000" fill-opacity="0.95" filter="url(#b1)"/></g>
<g><ellipse cx="484.00" cy="89.70" rx="11.85" ry="1.80" fill="#000" fill-opacity="0.38" filter="url(#b2)"/><rect x="472.75" y="88.60" width="22.50" height="2.20" rx="4.84" ry="1.10" fill="#000" fill-opacity="0.95" filter="url(#b1)"/></g>
<text x="335.40" y="127.00" font-size="12.5" text-anchor="start" font-weight="bold" fill="#111" stroke="#111" stroke-width="0.7" stroke-linejoin="round" >E</text>
<text x="358.40" y="124.40" font-size="7.2" text-anchor="start" font-weight="bold" fill="#111" stroke="#111" stroke-width="0.25" stroke-linejoin="round" text-decoration="underline">blot:</text>
<rect x="382.8" y="126.6" width="135.8" height="13.200000000000017" fill="#fdfdfd" stroke="#555" stroke-width="1.0"/>
<text x="358.40" y="136.00" font-size="7.5" text-anchor="start" font-weight="bold" fill="#111" stroke="#111" stroke-width="0.25" stroke-linejoin="round" >Cat</text>
<rect x="382.8" y="141.2" width="135.8" height="13.0" fill="#fdfdfd" stroke="#555" stroke-width="1.0"/>
<text x="358.40" y="150.50" font-size="7.5" text-anchor="start" font-weight="bold" fill="#111" stroke="#111" stroke-width="0.25" stroke-linejoin="round" >c-Jun</text>
<rect x="382.8" y="155.8" width="135.8" height="13.099999999999994" fill="#fdfdfd" stroke="#555" stroke-width="1.0"/>
<text x="358.40" y="165.15" font-size="7.5" text-anchor="start" font-weight="bold" fill="#111" stroke="#111" stroke-width="0.25" stroke-linejoin="round" >p73</text>
<rect x="382.8" y="170.3" width="135.8" height="12.699999999999989" fill="#fdfdfd" stroke="#555" stroke-width="1.0"/>
<text x="358.40" y="180.25" font-size="7.5" text-anchor="start" font-weight="bold" fill="#111" stroke="#111" stroke-width="0.25" stroke-linejoin="round" >Actin</text>
<g><rect x="385.50" y="131.30" width="15.00" height="2.60" rx="5.00" ry="1.30" fill="#000" fill-opacity="0.18" filter="url(#b2)"/></g>
<g><rect x="410.00" y="132.30" width="12.00" height="1.40" rx="3.08" ry="0.70" fill="#000" fill-opacity="0.08" filter="url(#b2)"/></g>
<g><rect x="432.50" y="132.25" width="17.00" height="1.50" rx="3.30" ry="0.75" fill="#000" fill-opacity="0.6" filter="url(#b1)"/></g>
<g><ellipse cx="463.30" cy="133.00" rx="9.10" ry="2.10" fill="#000" fill-opacity="0.38" filter="url(#b2)"/><rect x="454.80" y="131.60" width="17.00" height="2.80" rx="5.67" ry="1.40" fill="#000" fill-opacity="0.95" filter="url(#b1)"/></g>
<g><rect x="478.50" y="132.10" width="15.00" height="1.80" rx="3.96" ry="0.90" fill="#000" fill-opacity="0.3" filter="url(#b1)"/></g>
<g><ellipse cx="508.50" cy="132.80" rx="10.35" ry="2.50" fill="#000" fill-opacity="0.40" filter="url(#b2)"/><rect x="498.75" y="131.00" width="19.50" height="3.60" rx="6.50" ry="1.80" fill="#000" fill-opacity="1.0" filter="url(#b1)"/></g>
<g><rect x="386.00" y="147.10" width="13.00" height="1.00" rx="2.20" ry="0.50" fill="#000" fill-opacity="0.25" filter="url(#b1)"/></g>
<g><rect x="410.00" y="146.95" width="14.00" height="1.30" rx="2.86" ry="0.65" fill="#000" fill-opacity="0.5" filter="url(#b1)"/></g>
<g><ellipse cx="463.00" cy="147.80" rx="8.60" ry="1.70" fill="#000" fill-opacity="0.28" filter="url(#b2)"/><rect x="455.00" y="146.80" width="16.00" height="2.00" rx="4.40" ry="1.00" fill="#000" fill-opacity="0.7" filter="url(#b1)"/></g>
<g><rect x="478.50" y="146.85" width="15.00" height="1.50" rx="3.30" ry="0.75" fill="#000" fill-opacity="0.5" filter="url(#b1)"/></g>
<g transform="rotate(-3 508 147.2)"><rect x="500.00" y="146.35" width="16.00" height="1.70" rx="3.74" ry="0.85" fill="#000" fill-opacity="0.65" filter="url(#b1)"/></g>
<g><ellipse cx="393.00" cy="161.80" rx="8.60" ry="1.70" fill="#000" fill-opacity="0.26" filter="url(#b2)"/><rect x="385.00" y="160.80" width="16.00" height="2.00" rx="4.40" ry="1.00" fill="#000" fill-opacity="0.65" filter="url(#b1)"/></g>
<g><rect x="409.50" y="161.25" width="15.00" height="1.50" rx="3.30" ry="0.75" fill="#000" fill-opacity="0.5" filter="url(#b1)"/></g>
<g><ellipse cx="441.00" cy="162.60" rx="8.10" ry="1.60" fill="#000" fill-opacity="0.28" filter="url(#b2)"/><rect x="433.50" y="161.70" width="15.00" height="1.80" rx="3.96" ry="0.90" fill="#000" fill-opacity="0.7" filter="url(#b1)"/></g>
<g><ellipse cx="463.00" cy="161.80" rx="9.10" ry="2.40" fill="#000" fill-opacity="0.38" filter="url(#b2)"/><rect x="454.50" y="160.10" width="17.00" height="3.40" rx="5.67" ry="1.70" fill="#000" fill-opacity="0.95" filter="url(#b1)"/></g>
<g transform="rotate(-4 486 161)"><rect x="478.50" y="160.25" width="15.00" height="1.50" rx="3.30" ry="0.75" fill="#000" fill-opacity="0.5" filter="url(#b1)"/></g>
<g transform="rotate(-5 508 160.6)"><rect x="500.00" y="159.80" width="16.00" height="1.60" rx="3.52" ry="0.80" fill="#000" fill-opacity="0.6" filter="url(#b1)"/></g>
<g><ellipse cx="394.00" cy="176.60" rx="12.60" ry="3.20" fill="#000" fill-opacity="0.37" filter="url(#b2)"/><rect x="382.00" y="174.10" width="24.00" height="5.00" rx="8.00" ry="2.50" fill="#000" fill-opacity="0.92" filter="url(#b1)"/></g>
<g><ellipse cx="416.50" cy="176.60" rx="12.60" ry="3.20" fill="#000" fill-opacity="0.37" filter="url(#b2)"/><rect x="404.50" y="174.10" width="24.00" height="5.00" rx="8.00" ry="2.50" fill="#000" fill-opacity="0.92" filter="url(#b1)"/></g>
<g><ellipse cx="439.50" cy="176.60" rx="12.60" ry="3.20" fill="#000" fill-opacity="0.37" filter="url(#b2)"/><rect x="427.50" y="174.10" width="24.00" height="5.00" rx="8.00" ry="2.50" fill="#000" fill-opacity="0.92" filter="url(#b1)"/></g>
<g><ellipse cx="462.00" cy="176.60" rx="12.60" ry="3.20" fill="#000" fill-opacity="0.37" filter="url(#b2)"/><rect x="450.00" y="174.10" width="24.00" height="5.00" rx="8.00" ry="2.50" fill="#000" fill-opacity="0.92" filter="url(#b1)"/></g>
<g><ellipse cx="484.50" cy="176.60" rx="12.60" ry="3.20" fill="#000" fill-opacity="0.37" filter="url(#b2)"/><rect x="472.50" y="174.10" width="24.00" height="5.00" rx="8.00" ry="2.50" fill="#000" fill-opacity="0.92" filter="url(#b1)"/></g>
<g><ellipse cx="507.50" cy="176.60" rx="12.60" ry="3.20" fill="#000" fill-opacity="0.37" filter="url(#b2)"/><rect x="495.50" y="174.10" width="24.00" height="5.00" rx="8.00" ry="2.50" fill="#000" fill-opacity="0.92" filter="url(#b1)"/></g>
<text x="336.30" y="195.00" font-size="7.5" text-anchor="start" font-weight="bold" fill="#111" stroke="#111" stroke-width="0.25" stroke-linejoin="round" >siControl</text>
<path d="M391.40,192.10h3.6M393.20,190.30v3.6" stroke="#111" stroke-width="1.2" fill="none"/>
<path d="M415.05,192.60h2.3" stroke="#111" stroke-width="1.1" fill="none"/>
<path d="M438.25,192.60h2.3" stroke="#111" stroke-width="1.1" fill="none"/>
<path d="M460.40,192.10h3.6M462.20,190.30v3.6" stroke="#111" stroke-width="1.2" fill="none"/>
<path d="M483.85,192.60h2.3" stroke="#111" stroke-width="1.1" fill="none"/>
<path d="M506.25,192.60h2.3" stroke="#111" stroke-width="1.1" fill="none"/>
<text x="336.30" y="208.00" font-size="7.5" text-anchor="start" font-weight="bold" fill="#111" stroke="#111" stroke-width="0.25" stroke-linejoin="round" >siCatenin</text>
<path d="M392.05,205.10h2.3" stroke="#111" stroke-width="1.1" fill="none"/>
<path d="M414.40,204.60h3.6M416.20,202.80v3.6" stroke="#111" stroke-width="1.2" fill="none"/>
<path d="M438.25,205.10h2.3" stroke="#111" stroke-width="1.1" fill="none"/>
<path d="M461.05,205.10h2.3" stroke="#111" stroke-width="1.1" fill="none"/>
<path d="M483.20,204.60h3.6M485.00,202.80v3.6" stroke="#111" stroke-width="1.2" fill="none"/>
<path d="M506.25,205.10h2.3" stroke="#111" stroke-width="1.1" fill="none"/>
<text x="336.30" y="218.60" font-size="7.5" text-anchor="start" font-weight="bold" fill="#111" stroke="#111" stroke-width="0.25" stroke-linejoin="round" >sip73</text>
<path d="M392.05,215.70h2.3" stroke="#111" stroke-width="1.1" fill="none"/>
<path d="M415.05,215.70h2.3" stroke="#111" stroke-width="1.1" fill="none"/>
<path d="M437.60,215.20h3.6M439.40,213.40v3.6" stroke="#111" stroke-width="1.2" fill="none"/>
<path d="M461.05,215.70h2.3" stroke="#111" stroke-width="1.1" fill="none"/>
<path d="M483.85,215.70h2.3" stroke="#111" stroke-width="1.1" fill="none"/>
<path d="M505.60,215.20h3.6M507.40,213.40v3.6" stroke="#111" stroke-width="1.2" fill="none"/>
<text x="336.30" y="230.40" font-size="7.5" text-anchor="start" font-weight="bold" fill="#111" stroke="#111" stroke-width="0.25" stroke-linejoin="round" >Enzastaurin</text>
<path d="M392.05,228.30h2.3" stroke="#111" stroke-width="1.1" fill="none"/>
<path d="M415.05,228.30h2.3" stroke="#111" stroke-width="1.1" fill="none"/>
<path d="M438.25,228.30h2.3" stroke="#111" stroke-width="1.1" fill="none"/>
<path d="M460.40,227.80h3.6M462.20,226.00v3.6" stroke="#111" stroke-width="1.2" fill="none"/>
<path d="M483.20,227.80h3.6M485.00,226.00v3.6" stroke="#111" stroke-width="1.2" fill="none"/>
<path d="M505.60,227.80h3.6M507.40,226.00v3.6" stroke="#111" stroke-width="1.2" fill="none"/>
<rect x="382" y="234.6" width="134" height="105.4" fill="#fff" stroke="#aaa" stroke-width="0.8"/>
<line x1="382" x2="516" y1="322.44" y2="322.44" stroke="#9a9a9a" stroke-width="0.7"/>
<line x1="382" x2="516" y1="304.88" y2="304.88" stroke="#9a9a9a" stroke-width="0.7"/>
<line x1="382" x2="516" y1="287.32" y2="287.32" stroke="#333" stroke-width="0.7"/>
<line x1="382" x2="516" y1="269.76" y2="269.76" stroke="#9a9a9a" stroke-width="0.7"/>
<line x1="382" x2="516" y1="252.20" y2="252.20" stroke="#9a9a9a" stroke-width="0.7"/>
<line x1="382" x2="382" y1="234.6" y2="340" stroke="#444" stroke-width="0.8"/>
<text x="379.60" y="342.40" font-size="6.0" text-anchor="end" font-weight="bold" fill="#111" stroke="#111" stroke-width="0.25" stroke-linejoin="round" >0</text>
<text x="379.60" y="324.84" font-size="6.0" text-anchor="end" font-weight="bold" fill="#111" stroke="#111" stroke-width="0.25" stroke-linejoin="round" >0.5</text>
<text x="379.60" y="307.28" font-size="6.0" text-anchor="end" font-weight="bold" fill="#111" stroke="#111" stroke-width="0.25" stroke-linejoin="round" >1.0</text>
<text x="379.60" y="289.72" font-size="6.0" text-anchor="end" font-weight="bold" fill="#111" stroke="#111" stroke-width="0.25" stroke-linejoin="round" >1.5</text>
<text x="379.60" y="272.16" font-size="6.0" text-anchor="end" font-weight="bold" fill="#111" stroke="#111" stroke-width="0.25" stroke-linejoin="round" >2.0</text>
<text x="379.60" y="254.60" font-size="6.0" text-anchor="end" font-weight="bold" fill="#111" stroke="#111" stroke-width="0.25" stroke-linejoin="round" >2.5</text>
<text transform="translate(362.20,287.30) rotate(-90)" font-size="7.5" text-anchor="middle" font-weight="bold" fill="#111" stroke="#111" stroke-width="0.25">absorbance (405-490nm)</text>
<rect x="388.4" y="287.32" width="9.00" height="54.68" fill="#000"/>
<path d="M392.90,287.32V283.46M391.60,283.46h2.6" stroke="#222" stroke-width="0.6" fill="none"/>
<rect x="410.6" y="291.89" width="9.20" height="50.11" fill="#000"/>
<path d="M415.20,291.89V282.40M413.90,282.40h2.6" stroke="#222" stroke-width="0.6" fill="none"/>
<rect x="433" y="297.86" width="9.40" height="44.14" fill="#000"/>
<path d="M437.70,297.86V287.67M436.40,287.67h2.6" stroke="#222" stroke-width="0.6" fill="none"/>
<rect x="455.8" y="253.96" width="9.60" height="88.04" fill="#000"/>
<path d="M460.60,253.96V249.39M459.30,249.39h2.6" stroke="#222" stroke-width="0.6" fill="none"/>
<rect x="478.4" y="282.75" width="9.60" height="59.25" fill="#000"/>
<path d="M483.20,282.75V275.03M481.90,275.03h2.6" stroke="#222" stroke-width="0.6" fill="none"/>
<rect x="500.6" y="281.35" width="10.00" height="60.65" fill="#000"/>
<path d="M505.60,281.35V277.49M504.30,277.49h2.6" stroke="#222" stroke-width="0.6" fill="none"/>
</svg>
</body></html>
